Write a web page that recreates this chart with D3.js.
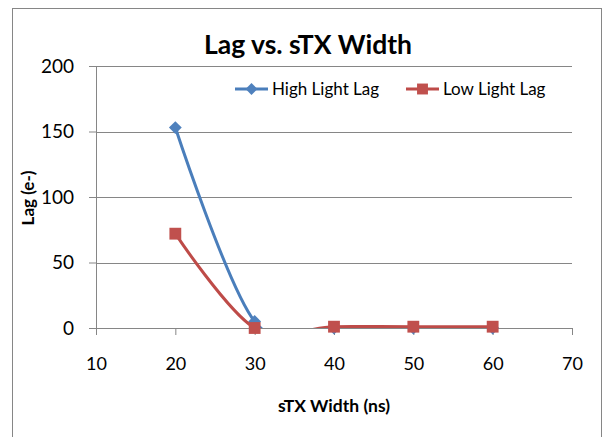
<!DOCTYPE html>
<html>
<head>
<meta charset="utf-8">
<script src="https://cdn.jsdelivr.net/npm/d3@7"></script>
<style>
  body { margin: 0; background: #fff; }
  text { font-family: Lato, "Open Sans", sans-serif; fill: #000; }
</style>
</head>
<body>
<script>
// values
const widths = [20, 30, 40, 50, 60];
const highLag = [153, 5, 0, 0, 0];
const lowLag = [72, 0, 1, 1, 1];
const xTicks = [10, 20, 30, 40, 50, 60, 70];
const yTicks = [0, 50, 100, 150, 200];

var margin = {top: 66, right: 33, bottom: 109, left: 96},
    width = 605 - margin.left - margin.right,
    height = 437 - margin.top - margin.bottom;

var root = d3.select("body")
    .append("svg")
    .attr("width", 605)
    .attr("height", 437);

// chart border
root.append("rect")
    .attr("x", 12.5).attr("y", 8.5)
    .attr("width", 589).attr("height", 440)
    .attr("fill", "none")
    .attr("stroke", "#868686");

var svg = root.append("g")
    .attr("transform", "translate(" + margin.left + "," + margin.top + ")");

var x = d3.scaleLinear().domain([10, 70]).range([0, width]);
var y = d3.scaleLinear().domain([0, 200]).range([height, 0]);

// gridlines
svg.selectAll(".grid")
    .data(yTicks.slice(1))
    .enter()
    .append("line")
    .attr("x1", 0).attr("x2", width)
    .attr("y1", d => Math.round(y(d)) + 0.5)
    .attr("y2", d => Math.round(y(d)) + 0.5)
    .attr("stroke", "#868686");

var xAxis = svg.append("g")
    .attr("transform", "translate(0," + height + ")")
    .call(d3.axisBottom(x).tickValues(xTicks).tickSize(7).tickPadding(22));
xAxis.selectAll("text").style("font-size", "18px");

var yAxis = svg.append("g")
    .call(d3.axisLeft(y).tickValues(yTicks).tickSize(7).tickPadding(15));
yAxis.selectAll("text").style("font-size", "19px");

root.selectAll(".domain, .tick line").attr("stroke", "#868686");

svg.append("clipPath").attr("id", "clip")
    .append("rect").attr("width", width).attr("height", height);

var line = d3.line()
    .x((d, i) => x(widths[i]))
    .y(d => y(d))
    .curve(d3.curveCardinal.tension(0));

// diamonds are squares turned 45 degrees, like excel draws them
var series = [
    {name: "High Light Lag", values: highLag, color: "#4a7ebb", fill: "#4f81bd", rot: 45, size: 82},
    {name: "Low Light Lag", values: lowLag, color: "#be4b48", fill: "#c0504d", rot: 0, size: 140}
];

series.forEach(function(s) {
    svg.append("path")
        .attr("d", line(s.values))
        .attr("clip-path", "url(#clip)")
        .attr("fill", "none")
        .attr("stroke", s.color)
        .attr("stroke-width", 3);
    svg.selectAll(null)
        .data(s.values)
        .enter()
        .append("path")
        .attr("d", d3.symbol().type(d3.symbolSquare).size(s.size))
        .attr("transform", (d, i) => "translate(" + x(widths[i]) + "," + y(d) + ") rotate(" + s.rot + ")")
        .attr("fill", s.fill);
});

// legend
var legend = root.append("g");
var legendX = [235, 406];
series.forEach(function(s, i) {
    var g = legend.append("g").attr("transform", "translate(" + legendX[i] + ",89)");
    g.append("line").attr("x1", 0).attr("x2", 33)
        .attr("stroke", s.color).attr("stroke-width", 3);
    g.append("path")
        .attr("d", d3.symbol().type(d3.symbolSquare).size(s.size * 0.85))
        .attr("transform", "translate(16.5,0) rotate(" + s.rot + ")")
        .attr("fill", s.fill);
    g.append("text")
        .attr("x", 37).attr("y", 6)
        .style("font-size", "17px")
        .text(s.name);
});

root.append("text")
    .attr("x", 308).attr("y", 54)
    .attr("text-anchor", "middle")
    .style("font-size", "26.5px")
    .style("font-weight", "bold")
    .text("Lag vs. sTX Width");

root.append("text")
    .attr("x", 334).attr("y", 412)
    .attr("text-anchor", "middle")
    .style("font-size", "17.5px")
    .style("font-weight", "bold")
    .text("sTX Width (ns)");

root.append("text")
    .attr("transform", "translate(34,198) rotate(-90)")
    .attr("text-anchor", "middle")
    .style("font-size", "17px")
    .style("font-weight", "bold")
    .text("Lag (e-)");
</script>
</body>
</html>
